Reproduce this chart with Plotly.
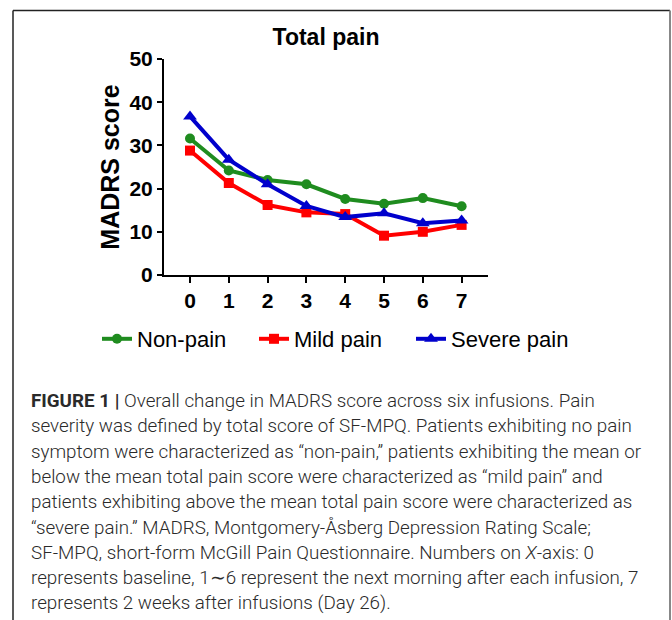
import plotly.graph_objects as go

days = [0, 1, 2, 3, 4, 5, 6, 7]
non_pain = [31.6, 24.2, 22.0, 21.0, 17.6, 16.5, 17.8, 15.9]
mild_pain = [28.8, 21.3, 16.2, 14.5, 14.1, 9.1, 10.0, 11.6]
severe_pain = [36.7, 26.7, 21.0, 16.0, 13.4, 14.3, 12.0, 12.6]
series_names = ["Non-pain", "Mild pain", "Severe pain"]
y_ticks = [0, 10, 20, 30, 40, 50]

caption_lines = [
    "<b>FIGURE 1 |</b> Overall change in MADRS score across six infusions. Pain",
    "severity was defined by total score of SF-MPQ. Patients exhibiting no pain",
    "symptom were characterized as \u201cnon-pain,\u201d patients exhibiting the mean or",
    "below the mean total pain score were characterized as \u201cmild pain\u201d and",
    "patients exhibiting above the mean total pain score were characterized as",
    "\u201csevere pain.\u201d MADRS, Montgomery-\u00c5sberg Depression Rating Scale;",
    "SF-MPQ, short-form McGill Pain Questionnaire. Numbers on <i>X</i>-axis: 0",
    "represents baseline, 1\u223c6 represent the next morning after each infusion, 7",
    "represents 2 weeks after infusions (Day 26).",
]

W, H = 672, 620
L, R, T, B = 164, 184, 59, 345
pw, ph = W - L - R, H - T - B


def px_x(x):
    return (x - L) / pw


def px_y(y):
    return (H - B - y) / ph


fig = go.Figure()
styles = [
    ("#1f8c1f", "circle", 10),
    ("#ff0000", "square", 10),
    ("#0000cc", "triangle-up", 12),
]
for name, vals, (col, sym, sz) in zip(series_names, [non_pain, mild_pain, severe_pain], styles):
    fig.add_trace(go.Scatter(
        x=days, y=vals, name=name, mode="lines+markers",
        line=dict(color=col, width=4),
        marker=dict(color=col, symbol=sym, size=sz),
    ))

shapes = [
    dict(type="line", xref="paper", yref="paper", x0=px_x(13), x1=px_x(13), y0=px_y(10.5), y1=px_y(640),
         line=dict(color="#222", width=1.5)),
    dict(type="line", xref="paper", yref="paper", x0=px_x(13), x1=px_x(670), y0=px_y(10.5), y1=px_y(10.5),
         line=dict(color="#222", width=1.5)),
    dict(type="line", xref="paper", yref="paper", x0=px_x(670), x1=px_x(670), y0=px_y(10.5), y1=px_y(640),
         line=dict(color="#888", width=2)),
]

annotations = []
y0 = 401
for i, line in enumerate(caption_lines):
    annotations.append(dict(
        text=line, xref="paper", yref="paper", x=px_x(29), y=px_y(y0 + i * 25.3),
        xanchor="left", yanchor="middle", showarrow=False,
        font=dict(family="Roboto", size=18.8, color="#2a2a2a", weight=300),
    ))

fig.update_layout(
    width=W, height=H,
    margin=dict(l=L, r=R, t=T, b=B),
    paper_bgcolor="white", plot_bgcolor="white",
    title=dict(text="<b>Total pain</b>", x=0.5, xref="paper", xanchor="center",
               y=1 - 37 / H, yanchor="middle",
               font=dict(family="Liberation Sans", size=23, color="black")),
    xaxis=dict(range=[-0.67, 7.68], tickvals=days, ticktext=[f"<b>{d}</b>" for d in days],
               showgrid=False, zeroline=False, showline=True, linecolor="black", linewidth=2,
               ticks="outside", ticklen=6, tickwidth=2, tickcolor="black",
               tickfont=dict(family="Liberation Sans", size=21, color="black")),
    yaxis=dict(range=[0, 50], tickvals=y_ticks, ticktext=[f"<b>{v}</b>" for v in y_ticks],
               showgrid=False, zeroline=False, showline=True, linecolor="black", linewidth=2,
               ticks="outside", ticklen=5, tickwidth=2, tickcolor="black",
               tickfont=dict(family="Liberation Sans", size=21, color="black"),
               title=dict(text="<b>MADRS score</b>", standoff=3,
                          font=dict(family="Liberation Sans", size=25, color="black"))),
    legend=dict(orientation="h", x=px_x(97), xanchor="left", y=px_y(339), yanchor="middle",
                font=dict(family="Liberation Sans", size=22, color="black"),
                entrywidth=112, entrywidthmode="pixels",
                bgcolor="rgba(0,0,0,0)"),
    shapes=shapes,
    annotations=annotations,
)

fig.write_html("out.html", config={"displayModeBar": False},
               post_script="document.body.style.margin='0';window.dispatchEvent(new Event('resize'));")
